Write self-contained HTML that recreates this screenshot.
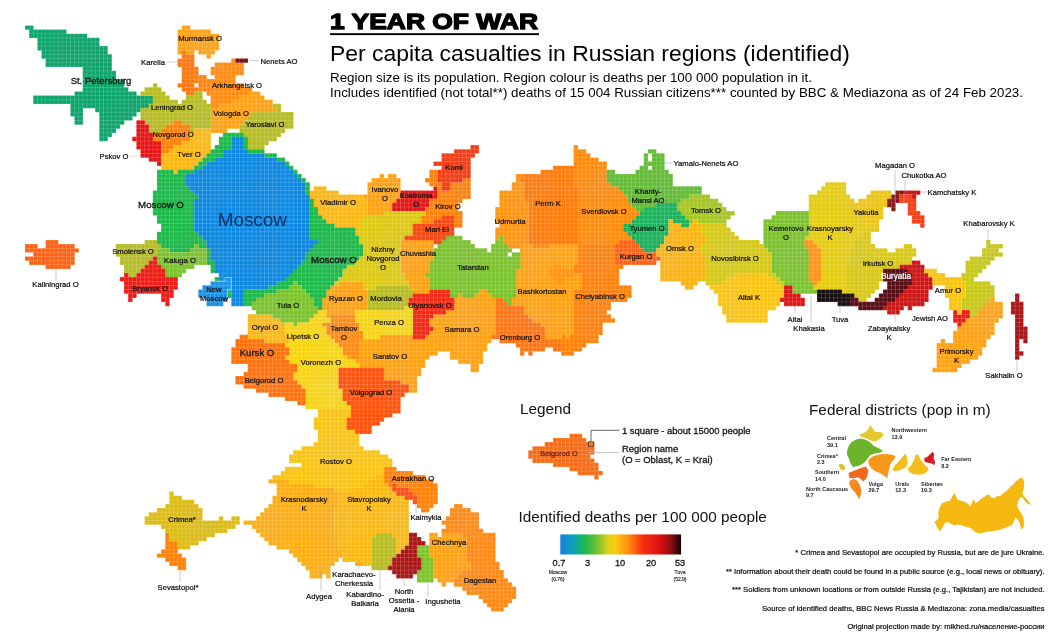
<!DOCTYPE html>
<html><head><meta charset="utf-8"><title>1 Year of War</title>
<style>
html,body{margin:0;padding:0;background:#fff;}
body{width:1052px;height:637px;overflow:hidden;position:relative;font-family:"Liberation Sans",sans-serif;}
svg{position:absolute;left:0;top:0;}
svg text{font-family:"Liberation Sans",sans-serif;}
</style></head><body>
<svg width="1052" height="637" viewBox="0 0 1052 637">
<defs>
<pattern id="grid" width="4.125" height="4.125" patternUnits="userSpaceOnUse" x="-1.6825" y="-1.2525">
<path d="M0 2.0625H4.125M2.0625 0V4.125" stroke="#fff" stroke-width="0.8" stroke-opacity="0.19" fill="none"/>
</pattern>
<linearGradient id="cb" x1="0" x2="1" y1="0" y2="0">
<stop offset="0" stop-color="#1080e0"/><stop offset="0.10" stop-color="#10a0c0"/><stop offset="0.2" stop-color="#18b850"/><stop offset="0.3" stop-color="#70c030"/><stop offset="0.4" stop-color="#e0d018"/><stop offset="0.45" stop-color="#f8cc12"/><stop offset="0.56" stop-color="#ff9010"/><stop offset="0.68" stop-color="#f83010"/><stop offset="0.82" stop-color="#e01010"/><stop offset="0.92" stop-color="#8a0c10"/><stop offset="1" stop-color="#100606"/>
</linearGradient>
<filter id="soft" x="-2%" y="-2%" width="104%" height="104%"><feGaussianBlur stdDeviation="0.45"/></filter>
</defs>
<g id="map" filter="url(#soft)">
<path fill="#10a56c" d="M24.98 25.41h8.55v4.42h-8.55zM29.11 29.54h37.42v4.42h-37.42zM29.11 33.66h58.05v4.42h-58.05zM37.36 37.79h62.17v8.55h-62.17zM37.36 46.04h70.42v4.42h-70.42zM41.48 50.16h66.3v4.42h-66.3zM41.48 54.29h70.42v4.42h-70.42zM45.61 58.41h66.3v8.55h-66.3zM82.73 66.66h29.18v4.42h-29.18zM82.73 70.78h33.3v8.55h-33.3zM82.73 79.03h41.55v8.55h-41.55zM82.73 87.28h45.67v4.42h-45.67zM74.48 91.41h62.17v4.42h-62.17zM33.23 95.53h119.92v8.55h-119.92zM70.35 103.78h78.67v4.42h-78.67zM95.1 107.91h45.67v4.42h-45.67zM70.35 107.91h12.68v8.55h-12.68zM99.23 112.03h37.42v4.42h-37.42zM99.23 116.16h33.3v4.42h-33.3zM74.48 116.16h8.55v8.55h-8.55zM99.23 120.28h25.05v4.42h-25.05zM99.23 124.41h20.93v4.42h-20.93zM99.23 128.53h16.8v4.42h-16.8zM99.23 132.66h12.68v4.42h-12.68zM99.23 136.78h8.55v4.42h-8.55z"/>
<path fill="#fea212" d="M181.73 25.41h8.55v4.42h-8.55zM177.6 29.54h33.3v4.42h-33.3zM177.6 33.66h41.55v16.8h-41.55zM177.6 50.16h4.42v4.42h-4.42zM185.85 50.16h8.55v4.42h-8.55zM198.23 50.16h16.8v4.42h-16.8zM206.48 54.29h4.42v4.42h-4.42zM247.73 91.41h12.68v4.42h-12.68zM239.48 95.53h25.05v4.42h-25.05zM231.23 99.66h41.55v4.42h-41.55zM218.85 103.78h53.92v4.42h-53.92zM210.6 107.91h66.3v4.42h-66.3zM210.6 112.03h41.55v4.42h-41.55zM210.6 116.16h37.42v4.42h-37.42zM210.6 120.28h33.3v4.42h-33.3zM210.6 124.41h29.18v4.42h-29.18zM210.6 128.53h16.8v4.42h-16.8zM379.73 173.91h4.42v4.42h-4.42zM387.98 173.91h8.55v4.42h-8.55zM371.48 178.03h29.18v4.42h-29.18zM367.36 182.16h33.3v12.68h-33.3zM363.23 194.53h37.42v4.42h-37.42zM367.36 198.66h29.18v4.42h-29.18zM367.36 202.78h25.05v8.55h-25.05zM367.36 211.03h16.8v4.42h-16.8zM519.98 244.03h12.68v4.42h-12.68zM548.86 244.03h29.18v4.42h-29.18zM400.36 239.91h33.3v20.93h-33.3zM519.98 248.16h58.05v16.8h-58.05zM519.98 264.66h33.3v4.42h-33.3zM561.23 264.66h12.68v4.42h-12.68zM400.36 260.54h29.18v12.68h-29.18zM515.86 268.79h33.3v8.55h-33.3zM404.48 272.91h20.93v4.42h-20.93zM573.61 272.91h8.55v4.42h-8.55zM404.48 277.04h25.05v4.42h-25.05zM515.86 277.04h37.42v4.42h-37.42zM565.36 277.04h16.8v8.55h-16.8zM338.48 281.16h25.05v4.42h-25.05zM515.86 281.16h41.55v4.42h-41.55zM408.61 281.16h20.93v8.55h-20.93zM330.23 285.29h33.3v4.42h-33.3zM515.86 285.29h66.3v4.42h-66.3zM412.73 289.41h16.8v4.42h-16.8zM478.73 289.41h8.55v4.42h-8.55zM326.11 289.41h41.55v8.55h-41.55zM515.86 289.41h58.05v8.55h-58.05zM458.11 293.54h4.42v4.42h-4.42zM474.61 293.54h16.8v4.42h-16.8zM990.23 297.66h4.42v4.42h-4.42zM511.73 297.66h62.17v8.55h-62.17zM986.11 301.79h16.8v4.42h-16.8zM321.98 297.66h45.67v12.68h-45.67zM453.98 297.66h41.55v12.68h-41.55zM981.98 305.91h20.93v4.42h-20.93zM524.11 305.91h49.8v8.55h-49.8zM326.11 310.04h29.18v4.42h-29.18zM445.73 310.04h49.8v4.42h-49.8zM977.86 310.04h25.05v4.42h-25.05zM326.11 314.16h4.42v4.42h-4.42zM433.36 314.16h62.17v4.42h-62.17zM528.23 314.16h45.67v4.42h-45.67zM973.73 314.16h29.18v4.42h-29.18zM532.36 318.29h41.55v4.42h-41.55zM965.48 318.29h33.3v4.42h-33.3zM429.23 318.29h66.3v8.55h-66.3zM540.61 322.41h33.3v4.42h-33.3zM961.36 322.41h33.3v4.42h-33.3zM433.36 326.54h62.17v4.42h-62.17zM957.23 326.54h37.42v4.42h-37.42zM544.73 326.54h29.18v8.55h-29.18zM429.23 330.66h66.3v4.42h-66.3zM953.11 330.66h41.55v4.42h-41.55zM379.73 334.79h33.3v4.42h-33.3zM425.11 334.79h66.3v4.42h-66.3zM544.73 334.79h16.8v4.42h-16.8zM565.36 334.79h4.42v4.42h-4.42zM953.11 334.79h37.42v4.42h-37.42zM359.11 338.91h132.3v4.42h-132.3zM940.73 338.91h4.42v4.42h-4.42zM953.11 338.91h33.3v4.42h-33.3zM936.61 343.04h49.8v4.42h-49.8zM359.11 343.04h128.18v8.55h-128.18zM936.61 347.16h45.67v8.55h-45.67zM359.11 351.29h78.67v4.42h-78.67zM449.86 351.29h33.3v8.55h-33.3zM346.73 355.41h4.42v4.42h-4.42zM359.11 355.41h70.42v4.42h-70.42zM936.61 355.41h41.55v4.42h-41.55zM354.98 359.54h70.42v4.42h-70.42zM458.11 359.54h25.05v4.42h-25.05zM936.61 359.54h33.3v4.42h-33.3zM359.11 363.66h66.3v4.42h-66.3zM936.61 363.66h25.05v4.42h-25.05zM470.48 363.66h8.55v8.55h-8.55zM932.48 367.79h25.05v4.42h-25.05zM383.86 367.79h37.42v8.55h-37.42zM383.86 376.04h33.3v4.42h-33.3zM400.36 380.16h16.8v4.42h-16.8zM408.61 384.29h8.55v8.55h-8.55zM429.23 532.78h8.55v4.42h-8.55zM441.61 532.78h20.93v4.42h-20.93zM429.23 536.91h37.42v20.93h-37.42zM433.36 557.53h33.3v4.42h-33.3zM433.36 561.66h37.42v8.55h-37.42zM433.36 569.91h29.18v4.42h-29.18zM433.36 574.03h25.05v4.42h-25.05zM437.48 578.16h16.8v4.42h-16.8zM441.61 582.28h4.42v4.42h-4.42z"/>
<path fill="#ff7810" d="M181.73 50.16h4.42v4.42h-4.42zM181.73 54.29h12.68v4.42h-12.68zM177.6 58.41h16.8v8.55h-16.8zM181.73 66.66h16.8v12.68h-16.8zM181.73 79.03h12.68v4.42h-12.68zM177.6 83.16h16.8v4.42h-16.8zM181.73 87.28h16.8v4.42h-16.8zM185.85 91.41h8.55v4.42h-8.55z"/>
<path fill="#ff8c12" d="M231.23 58.41h4.42v4.42h-4.42zM214.73 62.54h29.18v4.42h-29.18zM210.6 66.66h33.3v8.55h-33.3zM214.73 74.91h20.93v4.42h-20.93zM210.6 79.03h25.05v4.42h-25.05zM210.6 83.16h33.3v4.42h-33.3zM210.6 87.28h41.55v4.42h-41.55zM206.48 91.41h41.55v4.42h-41.55zM210.6 95.53h29.18v4.42h-29.18zM210.6 99.66h20.93v4.42h-20.93zM210.6 103.78h8.55v4.42h-8.55zM330.23 314.16h25.05v8.55h-25.05zM321.98 322.41h37.42v4.42h-37.42zM326.11 326.54h33.3v4.42h-33.3zM326.11 330.66h37.42v4.42h-37.42zM330.23 334.79h33.3v4.42h-33.3zM334.36 338.91h25.05v4.42h-25.05zM338.48 343.04h20.93v4.42h-20.93zM342.61 347.16h16.8v8.55h-16.8zM350.86 355.41h8.55v4.42h-8.55z"/>
<path fill="#7a0e0e" d="M235.35 58.41h12.68v4.42h-12.68z"/>
<path fill="#ff8412" d="M198.23 74.91h8.55v4.42h-8.55zM194.1 79.03h16.8v4.42h-16.8zM198.23 83.16h12.68v8.55h-12.68z"/>
<path fill="#b6bc24" d="M152.85 83.16h4.42v4.42h-4.42zM144.6 87.28h16.8v4.42h-16.8zM140.48 91.41h25.05v4.42h-25.05zM194.1 91.41h8.55v4.42h-8.55zM152.85 95.53h16.8v4.42h-16.8zM185.85 95.53h16.8v4.42h-16.8zM152.85 99.66h25.05v4.42h-25.05zM181.73 99.66h25.05v4.42h-25.05zM148.73 103.78h62.17v4.42h-62.17zM272.48 103.78h8.55v4.42h-8.55zM276.61 107.91h4.42v4.42h-4.42zM251.85 112.03h41.55v4.42h-41.55zM140.48 107.91h70.42v12.68h-70.42zM247.73 116.16h45.67v4.42h-45.67zM144.6 120.28h29.18v4.42h-29.18zM181.73 120.28h29.18v4.42h-29.18zM243.6 120.28h49.8v4.42h-49.8zM148.73 124.41h16.8v4.42h-16.8zM189.98 124.41h20.93v4.42h-20.93zM239.48 124.41h53.92v4.42h-53.92zM148.73 128.53h12.68v4.42h-12.68zM189.98 128.53h4.42v4.42h-4.42zM239.48 128.53h45.67v4.42h-45.67zM243.6 132.66h37.42v4.42h-37.42zM247.73 136.78h29.18v4.42h-29.18zM247.73 140.91h20.93v4.42h-20.93zM247.73 145.03h16.8v4.42h-16.8zM144.6 239.91h12.68v4.42h-12.68zM115.73 244.03h45.67v4.42h-45.67zM115.73 248.16h41.55v8.55h-41.55zM119.85 256.41h33.3v4.42h-33.3zM119.85 260.54h29.18v4.42h-29.18zM123.98 264.66h20.93v4.42h-20.93zM123.98 268.79h16.8v4.42h-16.8zM128.1 272.91h8.55v4.42h-8.55zM375.61 285.29h33.3v4.42h-33.3zM367.36 289.41h45.67v8.55h-45.67zM367.36 297.66h41.55v8.55h-41.55zM367.36 305.91h37.42v4.42h-37.42zM375.61 532.78h16.8v4.42h-16.8zM371.48 536.91h25.05v20.93h-25.05zM371.48 557.53h20.93v8.55h-20.93zM371.48 565.78h16.8v4.42h-16.8z"/>
<path fill="#e41212" d="M136.35 120.28h8.55v4.42h-8.55zM136.35 124.41h12.68v8.55h-12.68zM136.35 132.66h16.8v4.42h-16.8zM132.23 136.78h20.93v4.42h-20.93zM136.35 140.91h25.05v8.55h-25.05zM140.48 149.16h20.93v8.55h-20.93zM148.73 157.41h12.68v4.42h-12.68zM156.98 161.53h4.42v4.42h-4.42zM433.36 186.28h4.42v4.42h-4.42zM400.36 190.41h37.42v8.55h-37.42zM396.23 198.66h33.3v4.42h-33.3zM392.11 202.78h37.42v4.42h-37.42zM392.11 206.91h33.3v4.42h-33.3z"/>
<path fill="#ff8210" d="M173.48 120.28h8.55v4.42h-8.55zM165.23 124.41h25.05v4.42h-25.05zM161.1 128.53h29.18v4.42h-29.18zM152.85 132.66h37.42v8.55h-37.42zM161.1 140.91h20.93v4.42h-20.93zM161.1 145.03h12.68v4.42h-12.68zM161.1 149.16h8.55v4.42h-8.55zM429.23 169.78h8.55v8.55h-8.55zM425.11 178.03h12.68v4.42h-12.68zM462.23 178.03h8.55v4.42h-8.55zM429.23 182.16h12.68v4.42h-12.68zM449.86 182.16h20.93v8.55h-20.93zM437.48 186.28h4.42v4.42h-4.42zM437.48 190.41h33.3v8.55h-33.3zM429.23 198.66h33.3v4.42h-33.3zM429.23 202.78h29.18v4.42h-29.18zM425.11 206.91h33.3v4.42h-33.3zM425.11 211.03h37.42v4.42h-37.42zM420.98 215.16h20.93v4.42h-20.93zM420.98 219.28h12.68v4.42h-12.68zM453.98 215.16h8.55v12.68h-8.55zM577.73 244.03h37.42v20.93h-37.42zM573.61 264.66h49.8v4.42h-49.8zM573.61 268.79h45.67v4.42h-45.67zM581.86 272.91h37.42v12.68h-37.42zM581.86 285.29h49.8v4.42h-49.8zM573.61 289.41h58.05v8.55h-58.05zM573.61 297.66h53.92v4.42h-53.92zM573.61 301.79h37.42v8.55h-37.42zM573.61 310.04h33.3v4.42h-33.3zM573.61 314.16h37.42v4.42h-37.42zM573.61 318.29h41.55v4.42h-41.55zM573.61 322.41h29.18v12.68h-29.18zM561.23 334.79h4.42v4.42h-4.42zM569.48 334.79h29.18v4.42h-29.18zM561.23 338.91h37.42v4.42h-37.42zM561.23 343.04h25.05v4.42h-25.05zM561.23 347.16h20.93v4.42h-20.93zM565.36 351.29h8.55v4.42h-8.55zM383.86 466.79h12.68v4.42h-12.68zM383.86 470.91h29.18v4.42h-29.18zM383.86 475.04h41.55v4.42h-41.55zM383.86 479.16h49.8v4.42h-49.8zM387.98 483.29h4.42v4.42h-4.42zM396.23 483.29h41.55v4.42h-41.55zM408.61 487.41h29.18v4.42h-29.18zM412.73 491.54h25.05v4.42h-25.05zM416.86 495.66h20.93v8.55h-20.93zM416.86 503.91h16.8v4.42h-16.8zM420.98 508.04h8.55v4.42h-8.55zM165.23 532.78h4.42v8.55h-4.42zM165.23 541.03h12.68v8.55h-12.68zM161.1 549.28h16.8v4.42h-16.8zM156.98 553.41h25.05v4.42h-25.05zM165.23 557.53h20.93v4.42h-20.93zM169.35 561.66h16.8v4.42h-16.8zM177.6 565.78h8.55v4.42h-8.55z"/>
<path fill="#fbb812" d="M194.1 128.53h16.8v4.42h-16.8zM189.98 132.66h20.93v8.55h-20.93zM181.73 140.91h29.18v4.42h-29.18zM173.48 145.03h37.42v4.42h-37.42zM169.35 149.16h41.55v4.42h-41.55zM161.1 153.28h45.67v4.42h-45.67zM161.1 157.41h41.55v4.42h-41.55zM161.1 161.53h37.42v4.42h-37.42zM161.1 165.66h33.3v4.42h-33.3zM173.48 169.78h4.42v4.42h-4.42zM313.73 186.28h12.68v4.42h-12.68zM309.61 190.41h29.18v4.42h-29.18zM309.61 194.53h53.92v4.42h-53.92zM313.73 198.66h53.92v8.55h-53.92zM317.86 206.91h49.8v8.55h-49.8zM321.98 215.16h41.55v4.42h-41.55zM326.11 219.28h33.3v4.42h-33.3zM334.36 223.41h25.05v4.42h-25.05zM354.98 227.53h4.42v8.55h-4.42zM247.73 314.16h25.05v4.42h-25.05zM247.73 318.29h33.3v4.42h-33.3zM247.73 322.41h37.42v12.68h-37.42zM247.73 334.79h41.55v4.42h-41.55zM264.23 338.91h25.05v4.42h-25.05z"/>
<path fill="#1ab848" d="M222.98 132.66h20.93v4.42h-20.93zM218.85 136.78h12.68v8.55h-12.68zM243.6 136.78h4.42v12.68h-4.42zM214.73 145.03h16.8v4.42h-16.8zM210.6 149.16h12.68v4.42h-12.68zM247.73 149.16h16.8v4.42h-16.8zM206.48 153.28h16.8v4.42h-16.8zM264.23 153.28h12.68v4.42h-12.68zM202.35 157.41h12.68v4.42h-12.68zM276.61 157.41h8.55v4.42h-8.55zM198.23 161.53h8.55v4.42h-8.55zM284.86 161.53h4.42v4.42h-4.42zM194.1 165.66h8.55v4.42h-8.55zM288.98 165.66h4.42v4.42h-4.42zM156.98 169.78h16.8v4.42h-16.8zM177.6 169.78h16.8v4.42h-16.8zM293.11 169.78h4.42v4.42h-4.42zM297.23 173.91h4.42v4.42h-4.42zM301.36 178.03h4.42v4.42h-4.42zM156.98 173.91h29.18v12.68h-29.18zM156.98 186.28h33.3v4.42h-33.3zM305.48 182.16h4.42v12.68h-4.42zM152.85 190.41h41.55v4.42h-41.55zM152.85 194.53h45.67v4.42h-45.67zM309.61 198.66h4.42v8.55h-4.42zM152.85 198.66h41.55v16.8h-41.55zM309.61 206.91h8.55v8.55h-8.55zM309.61 215.16h12.68v4.42h-12.68zM156.98 215.16h37.42v8.55h-37.42zM309.61 219.28h16.8v4.42h-16.8zM309.61 223.41h25.05v4.42h-25.05zM161.1 223.41h33.3v8.55h-33.3zM309.61 227.53h45.67v8.55h-45.67zM156.98 231.66h41.55v4.42h-41.55zM156.98 235.78h45.67v4.42h-45.67zM309.61 235.78h49.8v4.42h-49.8zM156.98 239.91h49.8v4.42h-49.8zM317.86 239.91h41.55v4.42h-41.55zM161.1 244.03h33.3v4.42h-33.3zM198.23 244.03h8.55v4.42h-8.55zM313.73 244.03h49.8v4.42h-49.8zM169.35 248.16h20.93v4.42h-20.93zM309.61 248.16h53.92v4.42h-53.92zM305.48 252.28h58.05v4.42h-58.05zM206.48 248.16h4.42v12.68h-4.42zM305.48 256.41h53.92v4.42h-53.92zM206.48 260.54h8.55v4.42h-8.55zM301.36 260.54h53.92v4.42h-53.92zM297.23 264.66h49.8v4.42h-49.8zM210.6 264.66h4.42v8.55h-4.42zM293.11 268.79h49.8v4.42h-49.8zM288.98 272.91h53.92v4.42h-53.92zM214.73 277.04h4.42v4.42h-4.42zM284.86 277.04h53.92v4.42h-53.92zM276.61 281.16h16.8v4.42h-16.8zM297.23 281.16h37.42v4.42h-37.42zM268.36 285.29h20.93v4.42h-20.93zM301.36 285.29h29.18v4.42h-29.18zM243.6 289.41h33.3v4.42h-33.3zM305.48 289.41h20.93v4.42h-20.93zM227.1 289.41h4.42v8.55h-4.42zM243.6 293.54h20.93v4.42h-20.93zM309.61 293.54h16.8v4.42h-16.8zM243.6 297.66h12.68v4.42h-12.68zM313.73 297.66h8.55v8.55h-8.55zM243.6 301.79h8.55v4.42h-8.55zM317.86 305.91h4.42v4.42h-4.42z"/>
<path fill="#0f88e0" d="M231.23 136.78h12.68v12.68h-12.68zM222.98 149.16h25.05v4.42h-25.05zM222.98 153.28h41.55v4.42h-41.55zM214.73 157.41h62.17v4.42h-62.17zM206.48 161.53h78.67v4.42h-78.67zM202.35 165.66h86.92v4.42h-86.92zM194.1 169.78h99.3v4.42h-99.3zM185.85 173.91h111.67v4.42h-111.67zM185.85 178.03h115.8v4.42h-115.8zM185.85 182.16h119.92v4.42h-119.92zM189.98 186.28h115.8v4.42h-115.8zM194.1 190.41h111.67v4.42h-111.67zM198.23 194.53h111.67v4.42h-111.67zM194.1 198.66h115.8v33.3h-115.8zM198.23 231.66h111.67v4.42h-111.67zM202.35 235.78h107.55v4.42h-107.55zM206.48 239.91h111.67v4.42h-111.67zM206.48 244.03h107.55v4.42h-107.55zM210.6 248.16h99.3v4.42h-99.3zM210.6 252.28h95.17v8.55h-95.17zM214.73 260.54h86.92v4.42h-86.92zM214.73 264.66h82.8v4.42h-82.8zM214.73 268.79h78.67v4.42h-78.67zM218.85 272.91h70.42v4.42h-70.42zM218.85 277.04h8.55v4.42h-8.55zM231.23 277.04h53.92v4.42h-53.92zM231.23 281.16h45.67v4.42h-45.67zM231.23 285.29h37.42v4.42h-37.42zM231.23 289.41h12.68v16.8h-12.68z"/>
<path fill="#f23c12" d="M470.48 145.03h8.55v4.42h-8.55zM453.98 149.16h25.05v4.42h-25.05zM441.61 153.28h33.3v4.42h-33.3zM441.61 157.41h29.18v4.42h-29.18zM433.36 161.53h37.42v4.42h-37.42zM441.61 165.66h29.18v4.42h-29.18zM437.48 169.78h33.3v8.55h-33.3zM437.48 178.03h25.05v4.42h-25.05zM441.61 182.16h8.55v8.55h-8.55z"/>
<path fill="#ff8c10" d="M573.61 145.03h4.42v4.42h-4.42zM573.61 149.16h12.68v4.42h-12.68zM573.61 153.28h16.8v4.42h-16.8zM573.61 157.41h25.05v4.42h-25.05zM515.86 173.91h8.55v4.42h-8.55zM573.61 161.53h33.3v20.93h-33.3zM573.61 182.16h37.42v4.42h-37.42zM577.73 186.28h41.55v4.42h-41.55zM577.73 190.41h45.67v4.42h-45.67zM577.73 194.53h49.8v8.55h-49.8zM524.11 198.66h4.42v4.42h-4.42zM577.73 202.78h53.92v4.42h-53.92zM577.73 206.91h58.05v4.42h-58.05zM577.73 211.03h62.17v4.42h-62.17zM577.73 215.16h58.05v4.42h-58.05zM577.73 219.28h53.92v4.42h-53.92zM577.73 223.41h45.67v8.55h-45.67zM577.73 231.66h49.8v4.42h-49.8zM577.73 235.78h53.92v4.42h-53.92zM577.73 239.91h41.55v4.42h-41.55zM532.36 244.03h16.8v4.42h-16.8z"/>
<path fill="#64bc34" d="M647.86 149.16h8.55v4.42h-8.55zM643.73 153.28h4.42v8.55h-4.42zM651.98 153.28h12.68v8.55h-12.68zM643.73 161.53h20.93v4.42h-20.93zM639.61 165.66h8.55v4.42h-8.55zM651.98 165.66h12.68v4.42h-12.68zM606.61 169.78h8.55v4.42h-8.55zM635.48 169.78h33.3v4.42h-33.3zM606.61 173.91h66.3v8.55h-66.3zM610.73 182.16h62.17v4.42h-62.17zM618.98 186.28h82.8v4.42h-82.8zM623.11 190.41h78.67v4.42h-78.67zM627.23 194.53h62.17v4.42h-62.17zM627.23 198.66h53.92v4.42h-53.92zM631.36 202.78h25.05v4.42h-25.05zM635.48 206.91h8.55v4.42h-8.55z"/>
<path fill="#ff7c10" d="M552.98 165.66h20.93v4.42h-20.93zM540.61 169.78h33.3v4.42h-33.3zM524.11 173.91h49.8v4.42h-49.8zM519.98 178.03h53.92v4.42h-53.92zM524.11 182.16h49.8v4.42h-49.8zM524.11 186.28h53.92v12.68h-53.92zM528.23 198.66h49.8v45.67h-49.8z"/>
<path fill="#ff9612" d="M515.86 178.03h4.42v4.42h-4.42zM511.73 182.16h12.68v8.55h-12.68zM499.36 190.41h25.05v12.68h-25.05zM499.36 202.78h29.18v4.42h-29.18zM495.23 206.91h33.3v16.8h-33.3zM499.36 223.41h29.18v4.42h-29.18zM495.23 227.53h33.3v8.55h-33.3zM495.23 235.78h4.42v4.42h-4.42zM503.48 235.78h25.05v8.55h-25.05zM507.61 244.03h12.68v4.42h-12.68z"/>
<path fill="#e4cc16" d="M825.23 182.16h20.93v4.42h-20.93zM821.11 186.28h25.05v4.42h-25.05zM816.98 190.41h29.18v4.42h-29.18zM808.73 194.53h41.55v16.8h-41.55zM808.73 211.03h45.67v4.42h-45.67zM808.73 215.16h49.8v4.42h-49.8zM808.73 219.28h53.92v4.42h-53.92zM808.73 223.41h62.17v8.55h-62.17zM808.73 231.66h53.92v4.42h-53.92zM804.61 235.78h53.92v4.42h-53.92zM812.86 239.91h41.55v4.42h-41.55zM816.98 244.03h37.42v4.42h-37.42zM821.11 248.16h29.18v12.68h-29.18zM821.11 260.54h25.05v20.93h-25.05zM816.98 281.16h29.18v4.42h-29.18zM812.86 285.29h33.3v4.42h-33.3zM841.73 289.41h4.42v4.42h-4.42z"/>
<path fill="#ecc416" d="M870.61 190.41h20.93v4.42h-20.93zM866.48 194.53h25.05v4.42h-25.05zM849.98 198.66h4.42v4.42h-4.42zM858.23 198.66h29.18v4.42h-29.18zM849.98 202.78h37.42v4.42h-37.42zM849.98 206.91h33.3v4.42h-33.3zM854.11 211.03h29.18v4.42h-29.18zM858.23 215.16h25.05v4.42h-25.05zM862.36 219.28h16.8v4.42h-16.8zM870.61 223.41h8.55v8.55h-8.55z"/>
<path fill="#8c1212" d="M895.36 190.41h8.55v4.42h-8.55zM891.23 194.53h8.55v4.42h-8.55zM887.11 198.66h12.68v4.42h-12.68zM887.11 202.78h8.55v4.42h-8.55zM891.23 206.91h4.42v4.42h-4.42z"/>
<path fill="#c81416" d="M903.61 190.41h16.8v4.42h-16.8zM911.86 194.53h4.42v4.42h-4.42z"/>
<path fill="#a6c428" d="M689.11 194.53h20.93v4.42h-20.93zM680.86 198.66h37.42v4.42h-37.42zM676.73 202.78h45.67v4.42h-45.67zM676.73 206.91h49.8v4.42h-49.8zM680.86 211.03h53.92v4.42h-53.92zM684.98 215.16h45.67v4.42h-45.67zM689.11 219.28h4.42v4.42h-4.42zM697.36 219.28h29.18v4.42h-29.18z"/>
<path fill="#f63c14" d="M899.48 194.53h12.68v4.42h-12.68zM899.48 198.66h16.8v4.42h-16.8zM907.73 202.78h8.55v8.55h-8.55zM907.73 211.03h12.68v4.42h-12.68zM911.86 215.16h12.68v8.55h-12.68zM920.11 223.41h4.42v4.42h-4.42z"/>
<path fill="#1cb25c" d="M656.11 202.78h20.93v4.42h-20.93zM643.73 206.91h33.3v4.42h-33.3zM639.61 211.03h41.55v4.42h-41.55zM635.48 215.16h49.8v4.42h-49.8zM631.36 219.28h37.42v4.42h-37.42zM672.61 219.28h16.8v4.42h-16.8zM680.86 223.41h8.55v4.42h-8.55zM623.11 223.41h45.67v8.55h-45.67zM627.23 231.66h41.55v4.42h-41.55zM631.36 235.78h33.3v4.42h-33.3zM635.48 239.91h29.18v4.42h-29.18zM639.61 244.03h20.93v4.42h-20.93zM643.73 248.16h12.68v4.42h-12.68z"/>
<path fill="#dcc818" d="M383.86 211.03h41.55v4.42h-41.55zM363.23 215.16h58.05v4.42h-58.05zM359.11 219.28h62.17v4.42h-62.17zM359.11 223.41h53.92v12.68h-53.92zM359.11 235.78h45.67v4.42h-45.67zM359.11 239.91h41.55v4.42h-41.55zM363.23 244.03h37.42v12.68h-37.42zM359.11 256.41h41.55v4.42h-41.55zM354.98 260.54h45.67v4.42h-45.67zM346.73 264.66h53.92v4.42h-53.92zM342.61 268.79h58.05v4.42h-58.05zM342.61 272.91h62.17v4.42h-62.17zM338.48 277.04h66.3v4.42h-66.3zM334.36 281.16h4.42v4.42h-4.42zM363.23 281.16h45.67v4.42h-45.67zM363.23 285.29h12.68v4.42h-12.68z"/>
<path fill="#7cc22e" d="M775.73 211.03h33.3v4.42h-33.3zM771.61 215.16h37.42v4.42h-37.42zM763.36 219.28h45.67v16.8h-45.67zM445.73 235.78h16.8v4.42h-16.8zM499.36 235.78h4.42v4.42h-4.42zM441.61 239.91h29.18v4.42h-29.18zM495.23 239.91h8.55v4.42h-8.55zM763.36 235.78h41.55v12.68h-41.55zM194.1 244.03h4.42v4.42h-4.42zM437.48 244.03h37.42v4.42h-37.42zM491.11 244.03h16.8v4.42h-16.8zM156.98 248.16h12.68v4.42h-12.68zM189.98 248.16h16.8v4.42h-16.8zM433.36 248.16h53.92v4.42h-53.92zM491.11 248.16h20.93v4.42h-20.93zM767.48 248.16h41.55v4.42h-41.55zM433.36 252.28h74.55v4.42h-74.55zM511.73 252.28h8.55v4.42h-8.55zM433.36 256.41h86.92v4.42h-86.92zM156.98 252.28h49.8v12.68h-49.8zM429.23 260.54h91.05v8.55h-91.05zM161.1 264.66h33.3v4.42h-33.3zM771.61 252.28h37.42v20.93h-37.42zM165.23 268.79h20.93v4.42h-20.93zM429.23 268.79h86.92v4.42h-86.92zM165.23 272.91h16.8v4.42h-16.8zM425.11 272.91h91.05v4.42h-91.05zM775.73 272.91h33.3v4.42h-33.3zM779.86 277.04h29.18v4.42h-29.18zM293.11 281.16h4.42v4.42h-4.42zM783.98 281.16h29.18v4.42h-29.18zM429.23 277.04h86.92v12.68h-86.92zM288.98 285.29h12.68v4.42h-12.68zM792.23 285.29h20.93v4.42h-20.93zM276.61 289.41h29.18v4.42h-29.18zM449.86 289.41h29.18v4.42h-29.18zM486.98 289.41h29.18v4.42h-29.18zM792.23 289.41h25.05v4.42h-25.05zM264.23 293.54h45.67v4.42h-45.67zM449.86 293.54h8.55v4.42h-8.55zM462.23 293.54h12.68v4.42h-12.68zM491.11 293.54h25.05v4.42h-25.05zM255.98 297.66h58.05v4.42h-58.05zM503.48 297.66h8.55v4.42h-8.55zM251.85 301.79h62.17v4.42h-62.17zM507.61 301.79h4.42v4.42h-4.42zM251.85 305.91h66.3v4.42h-66.3zM255.98 310.04h62.17v4.42h-62.17zM272.48 314.16h41.55v4.42h-41.55zM280.73 318.29h29.18v4.42h-29.18zM293.11 322.41h4.42v4.42h-4.42zM416.86 545.16h12.68v12.68h-12.68zM420.98 557.53h12.68v12.68h-12.68zM416.86 569.91h16.8v12.68h-16.8z"/>
<path fill="#f44a12" d="M441.61 215.16h12.68v4.42h-12.68zM433.36 219.28h20.93v4.42h-20.93zM412.73 223.41h41.55v12.68h-41.55zM404.48 235.78h41.55v4.42h-41.55zM433.36 239.91h8.55v4.42h-8.55z"/>
<path fill="#fbb414" d="M668.48 219.28h4.42v4.42h-4.42zM693.23 219.28h4.42v4.42h-4.42zM668.48 223.41h12.68v4.42h-12.68zM689.11 223.41h12.68v4.42h-12.68zM668.48 227.53h33.3v8.55h-33.3zM664.36 235.78h41.55v8.55h-41.55zM660.23 244.03h41.55v4.42h-41.55zM656.11 248.16h45.67v4.42h-45.67zM656.11 252.28h49.8v4.42h-49.8zM660.23 256.41h45.67v20.93h-45.67zM660.23 277.04h41.55v4.42h-41.55zM680.86 281.16h16.8v4.42h-16.8zM684.98 285.29h8.55v4.42h-8.55z"/>
<path fill="#d6c818" d="M701.48 223.41h25.05v4.42h-25.05zM701.48 227.53h29.18v4.42h-29.18zM701.48 231.66h33.3v4.42h-33.3zM705.61 235.78h33.3v4.42h-33.3zM705.61 239.91h53.92v4.42h-53.92zM701.48 244.03h62.17v4.42h-62.17zM701.48 248.16h66.3v4.42h-66.3zM705.61 252.28h66.3v20.93h-66.3zM705.61 272.91h29.18v4.42h-29.18zM767.48 272.91h8.55v4.42h-8.55zM701.48 277.04h25.05v4.42h-25.05zM771.61 277.04h8.55v4.42h-8.55zM705.61 281.16h16.8v4.42h-16.8zM775.73 281.16h8.55v4.42h-8.55zM779.86 285.29h4.42v4.42h-4.42z"/>
<path fill="#d9c818" d="M862.36 231.66h8.55v4.42h-8.55zM858.23 235.78h12.68v4.42h-12.68zM854.11 239.91h16.8v4.42h-16.8zM854.11 244.03h20.93v4.42h-20.93zM903.61 244.03h8.55v4.42h-8.55zM849.98 248.16h37.42v4.42h-37.42zM895.36 248.16h20.93v4.42h-20.93zM849.98 252.28h66.3v4.42h-66.3zM849.98 256.41h62.17v4.42h-62.17zM845.86 260.54h66.3v4.42h-66.3zM845.86 264.66h53.92v4.42h-53.92zM845.86 268.79h37.42v12.68h-37.42zM845.86 281.16h33.3v8.55h-33.3zM845.86 289.41h29.18v4.42h-29.18zM854.11 293.54h16.8v4.42h-16.8zM858.23 297.66h8.55v4.42h-8.55z"/>
<path fill="#fd6412" d="M45.61 239.91h12.68v4.42h-12.68zM618.98 239.91h16.8v4.42h-16.8zM24.98 244.03h12.68v4.42h-12.68zM45.61 244.03h29.18v4.42h-29.18zM614.86 244.03h25.05v4.42h-25.05zM24.98 248.16h53.92v4.42h-53.92zM614.86 248.16h29.18v4.42h-29.18zM33.23 252.28h41.55v4.42h-41.55zM614.86 252.28h41.55v4.42h-41.55zM24.98 256.41h49.8v4.42h-49.8zM614.86 256.41h45.67v4.42h-45.67zM29.11 260.54h45.67v4.42h-45.67zM614.86 260.54h41.55v4.42h-41.55zM45.61 264.66h25.05v4.42h-25.05z"/>
<path fill="#ff9412" d="M804.61 239.91h8.55v4.42h-8.55zM804.61 244.03h12.68v4.42h-12.68zM552.98 264.66h8.55v4.42h-8.55zM548.86 268.79h25.05v8.55h-25.05zM808.73 248.16h12.68v33.3h-12.68zM552.98 277.04h12.68v4.42h-12.68zM557.11 281.16h8.55v4.42h-8.55zM812.86 281.16h4.42v4.42h-4.42z"/>
<path fill="#c8c81e" d="M986.11 239.91h4.42v4.42h-4.42zM986.11 244.03h16.8v4.42h-16.8zM981.98 248.16h16.8v4.42h-16.8zM981.98 252.28h20.93v4.42h-20.93zM969.61 256.41h25.05v4.42h-25.05zM965.48 260.54h25.05v4.42h-25.05zM965.48 264.66h20.93v4.42h-20.93zM965.48 268.79h16.8v4.42h-16.8zM961.36 272.91h16.8v4.42h-16.8zM961.36 277.04h12.68v4.42h-12.68zM965.48 281.16h25.05v4.42h-25.05zM965.48 285.29h29.18v12.68h-29.18zM961.36 297.66h29.18v4.42h-29.18zM961.36 301.79h25.05v4.42h-25.05zM961.36 305.91h20.93v4.42h-20.93zM969.61 310.04h8.55v4.42h-8.55zM969.61 314.16h4.42v4.42h-4.42z"/>
<path fill="#ec1c14" d="M152.85 256.41h4.42v4.42h-4.42zM148.73 260.54h8.55v4.42h-8.55zM144.6 264.66h16.8v4.42h-16.8zM140.48 268.79h25.05v4.42h-25.05zM123.98 272.91h4.42v4.42h-4.42zM136.35 272.91h29.18v4.42h-29.18zM119.85 277.04h58.05v4.42h-58.05zM123.98 281.16h53.92v8.55h-53.92zM123.98 289.41h49.8v4.42h-49.8zM128.1 293.54h8.55v4.42h-8.55zM161.1 293.54h12.68v4.42h-12.68zM128.1 297.66h4.42v4.42h-4.42zM161.1 297.66h8.55v4.42h-8.55zM165.23 301.79h4.42v4.42h-4.42zM953.11 310.04h4.42v4.42h-4.42zM961.36 310.04h8.55v4.42h-8.55zM953.11 314.16h16.8v4.42h-16.8zM953.11 318.29h12.68v4.42h-12.68zM957.23 322.41h4.42v4.42h-4.42z"/>
<path fill="#cc1212" d="M911.86 260.54h8.55v4.42h-8.55zM899.48 264.66h25.05v4.42h-25.05zM907.73 268.79h16.8v4.42h-16.8zM911.86 272.91h16.8v4.42h-16.8zM911.86 277.04h20.93v8.55h-20.93zM907.73 285.29h25.05v4.42h-25.05zM903.61 289.41h25.05v4.42h-25.05zM899.48 293.54h29.18v4.42h-29.18zM895.36 297.66h33.3v4.42h-33.3zM887.11 301.79h37.42v4.42h-37.42zM882.98 305.91h20.93v4.42h-20.93zM907.73 305.91h4.42v4.42h-4.42zM887.11 310.04h12.68v4.42h-12.68z"/>
<path fill="#560a12" d="M882.98 268.79h25.05v4.42h-25.05zM882.98 272.91h29.18v8.55h-29.18zM887.11 281.16h25.05v4.42h-25.05zM887.11 285.29h20.93v4.42h-20.93zM882.98 289.41h20.93v4.42h-20.93zM878.86 293.54h20.93v4.42h-20.93zM849.98 297.66h8.55v4.42h-8.55zM874.73 297.66h20.93v4.42h-20.93zM849.98 301.79h37.42v4.42h-37.42zM858.23 305.91h25.05v4.42h-25.05z"/>
<path fill="#f9c412" d="M924.23 268.79h12.68v4.42h-12.68zM734.48 272.91h33.3v4.42h-33.3zM928.36 272.91h16.8v4.42h-16.8zM726.23 277.04h45.67v4.42h-45.67zM932.48 277.04h29.18v4.42h-29.18zM722.11 281.16h53.92v4.42h-53.92zM932.48 281.16h33.3v4.42h-33.3zM709.73 285.29h70.42v4.42h-70.42zM713.86 289.41h70.42v4.42h-70.42zM944.86 285.29h20.93v12.68h-20.93zM717.98 293.54h66.3v4.42h-66.3zM717.98 297.66h62.17v8.55h-62.17zM948.98 297.66h12.68v12.68h-12.68zM722.11 305.91h53.92v4.42h-53.92zM722.11 310.04h45.67v4.42h-45.67zM957.23 310.04h4.42v4.42h-4.42zM726.23 314.16h41.55v8.55h-41.55zM317.86 409.04h33.3v8.55h-33.3zM313.73 417.29h33.3v12.68h-33.3zM317.86 429.66h37.42v4.42h-37.42zM317.86 433.79h41.55v8.55h-41.55zM313.73 442.04h45.67v4.42h-45.67zM301.36 446.16h62.17v4.42h-62.17zM293.11 450.29h86.92v4.42h-86.92zM288.98 454.41h99.3v4.42h-99.3zM288.98 458.54h103.42v4.42h-103.42zM301.36 462.66h91.05v4.42h-91.05zM284.86 466.79h99.3v4.42h-99.3zM280.73 470.91h103.42v4.42h-103.42zM272.48 475.04h103.42v4.42h-103.42zM288.98 479.16h78.67v4.42h-78.67zM313.73 483.29h49.8v4.42h-49.8zM334.36 487.41h16.8v4.42h-16.8z"/>
<path fill="#1f8fe2" d="M227.1 277.04h4.42v4.42h-4.42zM210.6 281.16h20.93v4.42h-20.93zM202.35 285.29h29.18v4.42h-29.18zM198.23 289.41h29.18v8.55h-29.18zM206.48 297.66h20.93v4.42h-20.93zM206.48 301.79h16.8v4.42h-16.8z"/>
<path fill="#dc1818" d="M783.98 285.29h8.55v8.55h-8.55zM783.98 293.54h16.8v4.42h-16.8zM779.86 297.66h25.05v4.42h-25.05zM783.98 301.79h20.93v4.42h-20.93z"/>
<path fill="#f02c12" d="M429.23 289.41h20.93v4.42h-20.93zM412.73 293.54h37.42v4.42h-37.42zM408.61 297.66h45.67v8.55h-45.67zM412.73 305.91h41.55v4.42h-41.55zM412.73 310.04h33.3v4.42h-33.3zM412.73 314.16h20.93v4.42h-20.93zM412.73 318.29h16.8v8.55h-16.8zM412.73 326.54h20.93v4.42h-20.93zM412.73 330.66h16.8v4.42h-16.8zM412.73 334.79h12.68v4.42h-12.68z"/>
<path fill="#180808" d="M816.98 289.41h25.05v4.42h-25.05zM816.98 293.54h37.42v4.42h-37.42zM816.98 297.66h33.3v4.42h-33.3zM837.61 301.79h12.68v4.42h-12.68z"/>
<path fill="#aa1218" d="M1014.98 293.54h4.42v8.55h-4.42zM1010.86 301.79h12.68v12.68h-12.68zM1014.98 314.16h8.55v12.68h-8.55zM1014.98 326.54h12.68v12.68h-12.68zM1023.23 338.91h4.42v4.42h-4.42zM1014.98 338.91h4.42v12.68h-4.42zM1014.98 351.29h8.55v4.42h-8.55zM1014.98 355.41h4.42v4.42h-4.42zM408.61 532.78h8.55v4.42h-8.55zM408.61 536.91h12.68v4.42h-12.68zM408.61 541.03h16.8v4.42h-16.8zM404.48 545.16h12.68v4.42h-12.68zM400.36 549.28h16.8v4.42h-16.8zM396.23 553.41h20.93v4.42h-20.93zM392.11 557.53h29.18v8.55h-29.18zM387.98 565.78h33.3v4.42h-33.3zM392.11 569.91h25.05v4.42h-25.05zM396.23 574.03h16.8v4.42h-16.8z"/>
<path fill="#ff7612" d="M495.23 297.66h8.55v4.42h-8.55zM495.23 301.79h12.68v4.42h-12.68zM495.23 305.91h29.18v8.55h-29.18zM495.23 314.16h33.3v4.42h-33.3zM495.23 318.29h37.42v4.42h-37.42zM495.23 322.41h45.67v4.42h-45.67zM495.23 326.54h49.8v8.55h-49.8zM491.11 334.79h53.92v4.42h-53.92zM499.36 338.91h62.17v4.42h-62.17zM515.86 343.04h45.67v4.42h-45.67zM519.98 347.16h25.05v4.42h-25.05zM552.98 347.16h8.55v4.42h-8.55zM519.98 351.29h4.42v4.42h-4.42zM528.23 351.29h4.42v4.42h-4.42zM561.23 351.29h4.42v4.42h-4.42z"/>
<path fill="#f6d412" d="M404.48 305.91h8.55v4.42h-8.55zM317.86 310.04h8.55v4.42h-8.55zM313.73 314.16h12.68v4.42h-12.68zM354.98 310.04h58.05v12.68h-58.05zM309.61 318.29h20.93v4.42h-20.93zM284.86 322.41h8.55v4.42h-8.55zM297.23 322.41h25.05v4.42h-25.05zM359.11 322.41h53.92v8.55h-53.92zM284.86 326.54h41.55v8.55h-41.55zM363.23 330.66h49.8v4.42h-49.8zM288.98 334.79h41.55v4.42h-41.55zM363.23 334.79h16.8v4.42h-16.8zM288.98 338.91h45.67v4.42h-45.67zM284.86 343.04h53.92v4.42h-53.92zM288.98 347.16h53.92v8.55h-53.92zM284.86 355.41h62.17v4.42h-62.17zM288.98 359.54h66.3v4.42h-66.3zM297.23 363.66h62.17v4.42h-62.17zM297.23 367.79h41.55v4.42h-41.55zM293.11 371.91h45.67v8.55h-45.67zM297.23 380.16h41.55v4.42h-41.55zM301.36 384.29h37.42v4.42h-37.42zM305.48 388.41h37.42v12.68h-37.42zM305.48 400.79h41.55v4.42h-41.55zM305.48 404.91h45.67v4.42h-45.67z"/>
<path fill="#ff7210" d="M239.48 334.79h8.55v4.42h-8.55zM235.35 338.91h29.18v4.42h-29.18zM235.35 343.04h49.8v4.42h-49.8zM231.23 347.16h58.05v8.55h-58.05zM231.23 355.41h53.92v4.42h-53.92zM231.23 359.54h58.05v4.42h-58.05zM247.73 363.66h49.8v8.55h-49.8zM243.6 371.91h49.8v4.42h-49.8zM235.35 376.04h58.05v4.42h-58.05zM235.35 380.16h62.17v4.42h-62.17zM243.6 384.29h58.05v4.42h-58.05zM255.98 388.41h49.8v4.42h-49.8zM268.36 392.54h37.42v4.42h-37.42zM284.86 396.66h20.93v4.42h-20.93zM297.23 400.79h8.55v4.42h-8.55z"/>
<path fill="#ff5210" d="M338.48 367.79h45.67v12.68h-45.67zM338.48 380.16h62.17v4.42h-62.17zM338.48 384.29h70.42v4.42h-70.42zM342.61 388.41h66.3v4.42h-66.3zM342.61 392.54h62.17v4.42h-62.17zM342.61 396.66h58.05v4.42h-58.05zM346.73 400.79h53.92v4.42h-53.92zM350.86 404.91h49.8v8.55h-49.8zM350.86 413.16h41.55v4.42h-41.55zM346.73 417.29h37.42v4.42h-37.42zM346.73 421.41h33.3v4.42h-33.3zM346.73 425.54h25.05v4.42h-25.05zM354.98 429.66h16.8v4.42h-16.8z"/>
<path fill="#f86c14" d="M569.48 433.79h12.68v4.42h-12.68zM552.98 437.91h33.3v4.42h-33.3zM544.73 442.04h49.8v4.42h-49.8zM532.36 446.16h62.17v4.42h-62.17zM528.23 450.29h66.3v4.42h-66.3zM528.23 454.41h62.17v4.42h-62.17zM532.36 458.54h62.17v4.42h-62.17zM552.98 462.66h45.67v4.42h-45.67zM569.48 466.79h29.18v4.42h-29.18zM577.73 470.91h25.05v4.42h-25.05zM594.23 475.04h4.42v4.42h-4.42z"/>
<path fill="#fbb912" d="M375.61 475.04h8.55v4.42h-8.55zM367.36 479.16h16.8v4.42h-16.8zM363.23 483.29h25.05v4.42h-25.05zM350.86 487.41h41.55v4.42h-41.55zM338.48 491.54h58.05v4.42h-58.05zM338.48 495.66h66.3v4.42h-66.3zM338.48 499.79h70.42v8.55h-70.42zM334.36 508.04h74.55v25.05h-74.55zM338.48 532.78h37.42v4.42h-37.42zM392.11 532.78h16.8v4.42h-16.8zM396.23 536.91h12.68v8.55h-12.68zM338.48 536.91h33.3v12.68h-33.3zM396.23 545.16h8.55v4.42h-8.55zM396.23 549.28h4.42v4.42h-4.42zM342.61 549.28h29.18v12.68h-29.18zM363.23 561.66h8.55v4.42h-8.55z"/>
<path fill="#fdae12" d="M268.36 479.16h20.93v4.42h-20.93zM276.61 483.29h37.42v4.42h-37.42zM276.61 487.41h58.05v4.42h-58.05zM276.61 491.54h62.17v4.42h-62.17zM272.48 495.66h66.3v8.55h-66.3zM268.36 503.91h70.42v4.42h-70.42zM264.23 508.04h70.42v4.42h-70.42zM260.11 512.16h74.55v4.42h-74.55zM255.98 516.28h78.67v4.42h-78.67zM243.6 520.41h91.05v4.42h-91.05zM251.85 524.53h82.8v4.42h-82.8zM255.98 528.66h78.67v4.42h-78.67zM260.11 532.78h78.67v4.42h-78.67zM264.23 536.91h74.55v4.42h-74.55zM268.36 541.03h70.42v4.42h-70.42zM276.61 545.16h62.17v4.42h-62.17zM288.98 549.28h53.92v4.42h-53.92zM293.11 553.41h49.8v4.42h-49.8zM297.23 557.53h41.55v4.42h-41.55zM301.36 561.66h33.3v4.42h-33.3zM354.98 561.66h8.55v4.42h-8.55zM305.48 565.78h25.05v4.42h-25.05zM309.61 569.91h20.93v4.42h-20.93zM309.61 574.03h12.68v4.42h-12.68zM326.11 574.03h4.42v4.42h-4.42z"/>
<path fill="#fa5012" d="M392.11 483.29h4.42v4.42h-4.42zM392.11 487.41h16.8v4.42h-16.8zM396.23 491.54h16.8v4.42h-16.8zM404.48 495.66h12.68v4.42h-12.68zM412.73 499.79h4.42v4.42h-4.42z"/>
<path fill="#dcbc14" d="M169.35 491.54h4.42v4.42h-4.42zM169.35 495.66h12.68v4.42h-12.68zM169.35 499.79h25.05v4.42h-25.05zM165.23 503.91h33.3v4.42h-33.3zM156.98 508.04h45.67v4.42h-45.67zM148.73 512.16h53.92v4.42h-53.92zM144.6 516.28h58.05v4.42h-58.05zM218.85 516.28h4.42v4.42h-4.42zM231.23 516.28h8.55v4.42h-8.55zM144.6 520.41h95.17v4.42h-95.17zM161.1 524.53h74.55v4.42h-74.55zM165.23 528.66h62.17v4.42h-62.17zM169.35 532.78h45.67v4.42h-45.67zM169.35 536.91h37.42v4.42h-37.42zM177.6 541.03h20.93v4.42h-20.93zM177.6 545.16h12.68v4.42h-12.68z"/>
<path fill="#ff8a12" d="M453.98 503.91h8.55v4.42h-8.55zM449.86 508.04h20.93v4.42h-20.93zM449.86 512.16h29.18v4.42h-29.18zM445.73 516.28h33.3v4.42h-33.3zM441.61 520.41h37.42v4.42h-37.42zM445.73 524.53h33.3v4.42h-33.3zM441.61 528.66h41.55v4.42h-41.55zM462.23 532.78h33.3v4.42h-33.3zM466.36 536.91h29.18v25.05h-29.18zM470.48 561.66h29.18v8.55h-29.18zM462.23 569.91h41.55v4.42h-41.55zM458.11 574.03h45.67v4.42h-45.67zM453.98 578.16h53.92v4.42h-53.92zM453.98 582.28h58.05v4.42h-58.05zM462.23 586.41h53.92v4.42h-53.92zM466.36 590.53h49.8v4.42h-49.8zM478.73 594.66h37.42v4.42h-37.42zM482.86 598.78h29.18v4.42h-29.18zM486.98 602.91h20.93v4.42h-20.93zM491.11 607.03h12.68v4.42h-12.68z"/>
</g>
<rect x="0" y="20" width="1052" height="600" fill="url(#grid)"/>
<polygon fill="#e2c82c" points="859,434.5 864.2,432.8 867.6,430.3 870.2,425.1 872.7,428.6 875.3,432 880.4,432 883.8,434.5 882.1,437.1 878.7,439.7 875.3,441.4 870.2,440.5 865.9,438 861.6,437.1"/>
<polygon fill="#6cb42c" points="847.1,450.8 848.8,445.7 851.3,442.2 855.6,439.7 860.7,438.5 865.9,439.7 870.2,442.2 873.6,445.7 878.7,448.2 883,450.8 880.4,452.5 875.3,453.4 870.2,455.1 867.6,458.5 865,461.9 861.6,464.5 857.3,466.2 853,467.1 850.5,463.6 848.8,458.5 847.1,455.1"/>
<polygon fill="#e2c02c" points="838.5,464.8 841.9,463.6 844.5,466.2 845.3,469.6 842.8,470.5 840.2,468.8"/>
<polygon fill="#f0681c" points="848.4,473 854.8,470.5 860.7,467.9 865.9,466.5 868.4,470.5 867.6,474.8 865.9,479 863.3,481.6 860.7,479 858.2,477.3 853.9,478.2 849.6,478.2"/>
<polygon fill="#f6891c" points="849.6,480.7 853.9,479 857.3,480.7 859.9,485 861.3,490.2 860.7,495.3 859,499.6 857.3,496.1 854.8,491.9 851.3,488.4 849.3,484.2"/>
<polygon fill="#f6981c" points="868.4,459.4 873.6,455.9 880.4,454.2 887.3,453.9 893.3,455.1 895.8,456.8 893.3,460.2 890.7,463.6 889,468.8 888.1,473.9 887.3,478.2 883.8,475.6 879.6,473 875.3,471.3 871,467.9 868.4,463.6"/>
<polygon fill="#f5bd1c" points="892.4,469.6 895,465.3 899.2,461.1 902.7,456.8 905.2,453.4 906.9,456.8 907.8,461.9 906.9,466.2 903.5,468.8 898.4,470.5 894.1,471.3"/>
<polygon fill="#f5bd1c" points="907.8,468.8 911.2,465.3 913.8,460.2 915.5,455.1 918.1,454.2 919.8,458.5 922.3,461.9 924.9,465.3 928.3,467.9 927.5,471.3 924.1,473.9 918.9,474.8 912.9,473.9 909.5,472.2"/>
<polygon fill="#d81c1c" points="924.1,458.5 927.5,456.8 930.9,453.4 932.6,451.7 934.3,454.2 933.5,458.5 935.2,461.9 934.3,465.3 931.8,463.6 928.3,462.8 924.9,461.9"/>
<polygon fill="#f5b810" points="934.4,521.4 936.9,520.2 938.8,517.7 938.2,513.9 938.8,510.2 940.1,506.4 942,503.2 945.1,502 949.5,500.7 951.4,498.2 953.2,494.5 955.1,493.8 956.4,497 957.6,500.1 961.4,500.7 965.2,502 968.3,503.9 970.2,506.4 971.4,503.9 972.7,500.7 974.6,500.1 975.2,503.2 977.7,502 980.2,499.5 984,497 987.8,494.5 989.6,495.1 990.9,497.6 994,498.2 997.2,496.3 1000.3,495.7 1003.4,493.2 1006.6,490.7 1009.7,487.6 1012.8,484.4 1016,481.3 1019.1,478.8 1021.6,477.5 1023.5,479.4 1024.1,482.5 1024.1,486.3 1023.5,490.1 1022.3,493.2 1024.1,496.3 1026.6,498.9 1029.2,502 1030.4,505.1 1027.9,503.9 1025.4,501.4 1022.9,498.2 1020.4,497 1019.1,499.5 1017.9,502.6 1017.2,506.4 1019.1,510.2 1021.6,513.9 1023.5,517.7 1024.1,522.7 1023.5,527.7 1021.6,529.6 1020.4,526.5 1019.7,522.7 1017.9,519.6 1015.4,517.7 1014.1,520.2 1012.8,524 1010.3,525.8 1006.6,527.1 1002.8,529 997.8,530.2 992.8,530.9 987.8,531.5 982.7,532.7 979,533.4 975.2,532.1 972.7,529.6 969.6,527.7 965.2,526.5 961.4,525.2 957.6,524.6 953.9,525.2 951.4,524 947.6,522.1 945.1,522.7 943.8,525.2 942,527.7 940.1,531.5 938.2,529 936.3,525.8 935.1,523.3"/>
<rect x="560.3" y="534.4" width="120.8" height="20.1" fill="url(#cb)"/>
<rect x="588.6" y="441.8" width="4.8" height="4.4" fill="#e8804a" stroke="#5a2a1a" stroke-width="0.8"/>
<path d="M591 441.5V430.3H619.5" fill="none" stroke="#444" stroke-width="0.8"/>
<path d="M588.5 452.4H619.5" fill="none" stroke="#b8b8b8" stroke-width="0.8"/>
<path d="M167 62L180 62" fill="none" stroke="#9a9a9a" stroke-width="0.5"/>
<path d="M250 60.5L258 60.5" fill="none" stroke="#9a9a9a" stroke-width="0.5"/>
<path d="M131 156L138 156" fill="none" stroke="#e8b0b0" stroke-width="0.5"/>
<path d="M663 163L672 163" fill="none" stroke="#9a9a9a" stroke-width="0.5"/>
<path d="M895 170L895 203" fill="none" stroke="#9a9a9a" stroke-width="0.5"/>
<path d="M905 180L905 203" fill="none" stroke="#9a9a9a" stroke-width="0.5"/>
<path d="M921 192L928 192" fill="none" stroke="#9a9a9a" stroke-width="0.5"/>
<path d="M988 229L988 241" fill="none" stroke="#9a9a9a" stroke-width="0.5"/>
<path d="M795 306L795 313" fill="none" stroke="#9a9a9a" stroke-width="0.5"/>
<path d="M811 296L811 322" fill="none" stroke="#9a9a9a" stroke-width="0.5"/>
<path d="M840 305L840 313" fill="none" stroke="#9a9a9a" stroke-width="0.5"/>
<path d="M895 311L895 322" fill="none" stroke="#9a9a9a" stroke-width="0.5"/>
<path d="M1017 359L1017 371" fill="none" stroke="#9a9a9a" stroke-width="0.5"/>
<path d="M56 270L56 281" fill="none" stroke="#9a9a9a" stroke-width="0.5"/>
<path d="M180 571L180 582" fill="none" stroke="#9a9a9a" stroke-width="0.5"/>
<path d="M321 566L321 591" fill="none" stroke="#9a9a9a" stroke-width="0.5"/>
<path d="M359 560L359 569" fill="none" stroke="#9a9a9a" stroke-width="0.5"/>
<path d="M380 566L380 590" fill="none" stroke="#9a9a9a" stroke-width="0.5"/>
<path d="M404 578L404 586" fill="none" stroke="#9a9a9a" stroke-width="0.5"/>
<path d="M428 583L428 597" fill="none" stroke="#9a9a9a" stroke-width="0.5"/>
<path d="M416 505L416 513" fill="none" stroke="#9a9a9a" stroke-width="0.5"/>
<path d="M210.0 285.0 L210.0 281.2 L225.0 281.2 L225.0 277.5 L231.2 277.5 L231.2 290.0 L227.5 290.0 L227.5 302.5" fill="none" stroke="#b4dcf8" stroke-width="0.8" stroke-opacity="0.85"/>
<g opacity="0.999">
<text x="200" y="41" font-size="7.65" fill="#111" text-anchor="middle" font-weight="normal" stroke="#111" stroke-width="0.2295">Murmansk O</text>
<text x="153" y="65" font-size="7.65" fill="#111" text-anchor="middle" font-weight="normal" stroke="#111" stroke-width="0.2295">Karelia</text>
<text x="279" y="64" font-size="7.65" fill="#111" text-anchor="middle" font-weight="normal" stroke="#111" stroke-width="0.2295">Nenets AO</text>
<text x="101" y="84" font-size="9.5" fill="#111" text-anchor="middle" font-weight="normal" stroke="#111" stroke-width="0.285">St. Petersburg</text>
<text x="237" y="88" font-size="7.65" fill="#111" text-anchor="middle" font-weight="normal" stroke="#111" stroke-width="0.2295">Arkhangelsk O</text>
<text x="172" y="110" font-size="7.65" fill="#111" text-anchor="middle" font-weight="normal" stroke="#111" stroke-width="0.2295">Leningrad O</text>
<text x="231" y="116" font-size="7.65" fill="#111" text-anchor="middle" font-weight="normal" stroke="#111" stroke-width="0.2295">Vologda O</text>
<text x="265" y="127" font-size="7.65" fill="#111" text-anchor="middle" font-weight="normal" stroke="#111" stroke-width="0.2295">Yaroslavl O</text>
<text x="173" y="137" font-size="7.65" fill="#111" text-anchor="middle" font-weight="normal" stroke="#111" stroke-width="0.2295">Novgorod O</text>
<text x="114" y="159" font-size="7.65" fill="#111" text-anchor="middle" font-weight="normal" stroke="#111" stroke-width="0.2295">Pskov O</text>
<text x="189" y="157" font-size="7.65" fill="#111" text-anchor="middle" font-weight="normal" stroke="#111" stroke-width="0.2295">Tver O</text>
<text x="161" y="208" font-size="9.7" fill="#111" text-anchor="middle" font-weight="normal" stroke="#111" stroke-width="0.291">Moscow O</text>
<text x="338" y="205" font-size="7.65" fill="#111" text-anchor="middle" font-weight="normal" stroke="#111" stroke-width="0.2295">Vladimir O</text>
<text x="385" y="192" font-size="7.65" fill="#111" text-anchor="middle" font-weight="normal" stroke="#111" stroke-width="0.2295">Ivanovo</text>
<text x="385" y="201" font-size="7.65" fill="#111" text-anchor="middle" font-weight="normal" stroke="#111" stroke-width="0.2295">O</text>
<text x="416" y="198" font-size="7.65" fill="#111" text-anchor="middle" font-weight="normal" stroke="#111" stroke-width="0.2295">Kostroma</text>
<text x="416" y="207" font-size="7.65" fill="#111" text-anchor="middle" font-weight="normal" stroke="#111" stroke-width="0.2295">O</text>
<text x="454" y="170" font-size="7.65" fill="#111" text-anchor="middle" font-weight="normal" stroke="#111" stroke-width="0.2295">Komi</text>
<text x="448" y="209" font-size="7.65" fill="#111" text-anchor="middle" font-weight="normal" stroke="#111" stroke-width="0.2295">Kirov O</text>
<text x="437" y="232" font-size="7.65" fill="#111" text-anchor="middle" font-weight="normal" stroke="#111" stroke-width="0.2295">Mari El</text>
<text x="510" y="224" font-size="7.65" fill="#111" text-anchor="middle" font-weight="normal" stroke="#111" stroke-width="0.2295">Udmurtia</text>
<text x="548" y="206" font-size="7.65" fill="#111" text-anchor="middle" font-weight="normal" stroke="#111" stroke-width="0.2295">Perm K</text>
<text x="604" y="214" font-size="7.65" fill="#111" text-anchor="middle" font-weight="normal" stroke="#111" stroke-width="0.2295">Sverdlovsk O</text>
<text x="648" y="194" font-size="7.65" fill="#111" text-anchor="middle" font-weight="normal" stroke="#111" stroke-width="0.2295">Khanty-</text>
<text x="648" y="203" font-size="7.65" fill="#111" text-anchor="middle" font-weight="normal" stroke="#111" stroke-width="0.2295">Mansi AO</text>
<text x="706" y="166" font-size="7.65" fill="#111" text-anchor="middle" font-weight="normal" stroke="#111" stroke-width="0.2295">Yamalo-Nenets AO</text>
<text x="706" y="213" font-size="7.65" fill="#111" text-anchor="middle" font-weight="normal" stroke="#111" stroke-width="0.2295">Tomsk O</text>
<text x="647" y="231" font-size="7.65" fill="#111" text-anchor="middle" font-weight="normal" stroke="#111" stroke-width="0.2295">Tyumen O</text>
<text x="636" y="259" font-size="7.65" fill="#111" text-anchor="middle" font-weight="normal" stroke="#111" stroke-width="0.2295">Kurgan O</text>
<text x="680" y="251" font-size="7.65" fill="#111" text-anchor="middle" font-weight="normal" stroke="#111" stroke-width="0.2295">Omsk O</text>
<text x="735" y="261" font-size="7.65" fill="#111" text-anchor="middle" font-weight="normal" stroke="#111" stroke-width="0.2295">Novosibirsk O</text>
<text x="786" y="231" font-size="7.65" fill="#111" text-anchor="middle" font-weight="normal" stroke="#111" stroke-width="0.2295">Kemerovo</text>
<text x="786" y="240" font-size="7.65" fill="#111" text-anchor="middle" font-weight="normal" stroke="#111" stroke-width="0.2295">O</text>
<text x="830" y="231" font-size="7.65" fill="#111" text-anchor="middle" font-weight="normal" stroke="#111" stroke-width="0.2295">Krasnoyarsky</text>
<text x="830" y="240" font-size="7.65" fill="#111" text-anchor="middle" font-weight="normal" stroke="#111" stroke-width="0.2295">K</text>
<text x="866" y="215" font-size="7.65" fill="#111" text-anchor="middle" font-weight="normal" stroke="#111" stroke-width="0.2295">Yakutia</text>
<text x="878" y="266" font-size="7.65" fill="#111" text-anchor="middle" font-weight="normal" stroke="#111" stroke-width="0.2295">Irkutsk O</text>
<text x="948" y="293" font-size="7.65" fill="#111" text-anchor="middle" font-weight="normal" stroke="#111" stroke-width="0.2295">Amur O</text>
<text x="989" y="226" font-size="7.65" fill="#111" text-anchor="middle" font-weight="normal" stroke="#111" stroke-width="0.2295">Khabarovsky K</text>
<text x="895" y="168" font-size="7.65" fill="#111" text-anchor="middle" font-weight="normal" stroke="#111" stroke-width="0.2295">Magadan O</text>
<text x="924" y="178" font-size="7.65" fill="#111" text-anchor="middle" font-weight="normal" stroke="#111" stroke-width="0.2295">Chukotka AO</text>
<text x="952" y="195" font-size="7.65" fill="#111" text-anchor="middle" font-weight="normal" stroke="#111" stroke-width="0.2295">Kamchatsky K</text>
<text x="930" y="321" font-size="7.65" fill="#111" text-anchor="middle" font-weight="normal" stroke="#111" stroke-width="0.2295">Jewish AO</text>
<text x="889" y="331" font-size="7.65" fill="#111" text-anchor="middle" font-weight="normal" stroke="#111" stroke-width="0.2295">Zabaykalsky</text>
<text x="889" y="340" font-size="7.65" fill="#111" text-anchor="middle" font-weight="normal" stroke="#111" stroke-width="0.2295">K</text>
<text x="840" y="322" font-size="7.65" fill="#111" text-anchor="middle" font-weight="normal" stroke="#111" stroke-width="0.2295">Tuva</text>
<text x="795" y="322" font-size="7.65" fill="#111" text-anchor="middle" font-weight="normal" stroke="#111" stroke-width="0.2295">Altai</text>
<text x="809" y="331" font-size="7.65" fill="#111" text-anchor="middle" font-weight="normal" stroke="#111" stroke-width="0.2295">Khakasia</text>
<text x="749" y="300" font-size="7.65" fill="#111" text-anchor="middle" font-weight="normal" stroke="#111" stroke-width="0.2295">Altai K</text>
<text x="956.5" y="354" font-size="7.65" fill="#111" text-anchor="middle" font-weight="normal" stroke="#111" stroke-width="0.2295">Primorsky</text>
<text x="956.5" y="363" font-size="7.65" fill="#111" text-anchor="middle" font-weight="normal" stroke="#111" stroke-width="0.2295">K</text>
<text x="1004" y="378" font-size="7.65" fill="#111" text-anchor="middle" font-weight="normal" stroke="#111" stroke-width="0.2295">Sakhalin O</text>
<text x="133" y="254" font-size="7.65" fill="#111" text-anchor="middle" font-weight="normal" stroke="#111" stroke-width="0.2295">Smolensk O</text>
<text x="180" y="263" font-size="7.65" fill="#111" text-anchor="middle" font-weight="normal" stroke="#111" stroke-width="0.2295">Kaluga O</text>
<text x="150" y="291" font-size="7.65" fill="#111" text-anchor="middle" font-weight="normal" stroke="#111" stroke-width="0.2295">Bryansk O</text>
<text x="55.5" y="287" font-size="7.65" fill="#111" text-anchor="middle" font-weight="normal" stroke="#111" stroke-width="0.2295">Kaliningrad O</text>
<text x="214" y="292" font-size="7.65" fill="#111" text-anchor="middle" font-weight="normal" stroke="#111" stroke-width="0.2295">New</text>
<text x="214" y="301" font-size="7.65" fill="#111" text-anchor="middle" font-weight="normal" stroke="#111" stroke-width="0.2295">Moscow</text>
<text x="288" y="308" font-size="7.65" fill="#111" text-anchor="middle" font-weight="normal" stroke="#111" stroke-width="0.2295">Tula O</text>
<text x="265" y="330" font-size="7.65" fill="#111" text-anchor="middle" font-weight="normal" stroke="#111" stroke-width="0.2295">Oryol O</text>
<text x="303" y="339" font-size="7.65" fill="#111" text-anchor="middle" font-weight="normal" stroke="#111" stroke-width="0.2295">Lipetsk O</text>
<text x="257" y="356" font-size="9.6" fill="#111" text-anchor="middle" font-weight="normal" stroke="#111" stroke-width="0.288">Kursk O</text>
<text x="321" y="365" font-size="7.65" fill="#111" text-anchor="middle" font-weight="normal" stroke="#111" stroke-width="0.2295">Voronezh O</text>
<text x="264" y="383" font-size="7.65" fill="#111" text-anchor="middle" font-weight="normal" stroke="#111" stroke-width="0.2295">Belgorod O</text>
<text x="346" y="301" font-size="7.65" fill="#111" text-anchor="middle" font-weight="normal" stroke="#111" stroke-width="0.2295">Ryazan O</text>
<text x="386" y="301" font-size="7.65" fill="#111" text-anchor="middle" font-weight="normal" stroke="#111" stroke-width="0.2295">Mordovia</text>
<text x="344" y="331" font-size="7.65" fill="#111" text-anchor="middle" font-weight="normal" stroke="#111" stroke-width="0.2295">Tambov</text>
<text x="344" y="340" font-size="7.65" fill="#111" text-anchor="middle" font-weight="normal" stroke="#111" stroke-width="0.2295">O</text>
<text x="389" y="325" font-size="7.65" fill="#111" text-anchor="middle" font-weight="normal" stroke="#111" stroke-width="0.2295">Penza O</text>
<text x="430" y="308" font-size="7.65" fill="#111" text-anchor="middle" font-weight="normal" stroke="#111" stroke-width="0.2295">Ulyanovsk O</text>
<text x="462" y="332" font-size="7.65" fill="#111" text-anchor="middle" font-weight="normal" stroke="#111" stroke-width="0.2295">Samara O</text>
<text x="390" y="359" font-size="7.65" fill="#111" text-anchor="middle" font-weight="normal" stroke="#111" stroke-width="0.2295">Saratov O</text>
<text x="371" y="395" font-size="7.65" fill="#111" text-anchor="middle" font-weight="normal" stroke="#111" stroke-width="0.2295">Volgograd O</text>
<text x="520" y="340" font-size="7.65" fill="#111" text-anchor="middle" font-weight="normal" stroke="#111" stroke-width="0.2295">Orenburg O</text>
<text x="542" y="294" font-size="7.65" fill="#111" text-anchor="middle" font-weight="normal" stroke="#111" stroke-width="0.2295">Bashkortostan</text>
<text x="600" y="299" font-size="7.65" fill="#111" text-anchor="middle" font-weight="normal" stroke="#111" stroke-width="0.2295">Chelyabinsk O</text>
<text x="473" y="270" font-size="7.65" fill="#111" text-anchor="middle" font-weight="normal" stroke="#111" stroke-width="0.2295">Tatarstan</text>
<text x="418" y="256" font-size="7.65" fill="#111" text-anchor="middle" font-weight="normal" stroke="#111" stroke-width="0.2295">Chuvashia</text>
<text x="383" y="252" font-size="7.65" fill="#111" text-anchor="middle" font-weight="normal" stroke="#111" stroke-width="0.2295">Nizhny</text>
<text x="383" y="261" font-size="7.65" fill="#111" text-anchor="middle" font-weight="normal" stroke="#111" stroke-width="0.2295">Novgorod</text>
<text x="383" y="269.5" font-size="7.65" fill="#111" text-anchor="middle" font-weight="normal" stroke="#111" stroke-width="0.2295">O</text>
<text x="334" y="263" font-size="9.7" fill="#111" text-anchor="middle" font-weight="normal" stroke="#111" stroke-width="0.291">Moscow O</text>
<text x="336" y="464" font-size="7.65" fill="#111" text-anchor="middle" font-weight="normal" stroke="#111" stroke-width="0.2295">Rostov O</text>
<text x="413" y="481" font-size="7.65" fill="#111" text-anchor="middle" font-weight="normal" stroke="#111" stroke-width="0.2295">Astrakhan O</text>
<text x="304" y="502" font-size="7.65" fill="#111" text-anchor="middle" font-weight="normal" stroke="#111" stroke-width="0.2295">Krasnodarsky</text>
<text x="304" y="511" font-size="7.65" fill="#111" text-anchor="middle" font-weight="normal" stroke="#111" stroke-width="0.2295">K</text>
<text x="369" y="502" font-size="7.65" fill="#111" text-anchor="middle" font-weight="normal" stroke="#111" stroke-width="0.2295">Stavropolsky</text>
<text x="369" y="511" font-size="7.65" fill="#111" text-anchor="middle" font-weight="normal" stroke="#111" stroke-width="0.2295">K</text>
<text x="426" y="520" font-size="7.65" fill="#111" text-anchor="middle" font-weight="normal" stroke="#111" stroke-width="0.2295">Kalmykia</text>
<text x="449" y="545" font-size="7.65" fill="#111" text-anchor="middle" font-weight="normal" stroke="#111" stroke-width="0.2295">Chechnya</text>
<text x="480" y="583" font-size="7.65" fill="#111" text-anchor="middle" font-weight="normal" stroke="#111" stroke-width="0.2295">Dagestan</text>
<text x="182" y="522" font-size="7.65" fill="#111" text-anchor="middle" font-weight="normal" stroke="#111" stroke-width="0.2295">Crimea*</text>
<text x="178" y="590" font-size="7.65" fill="#111" text-anchor="middle" font-weight="normal" stroke="#111" stroke-width="0.2295">Sevastopol*</text>
<text x="319" y="599" font-size="7.65" fill="#111" text-anchor="middle" font-weight="normal" stroke="#111" stroke-width="0.2295">Adygea</text>
<text x="354" y="577" font-size="7.65" fill="#111" text-anchor="middle" font-weight="normal" stroke="#111" stroke-width="0.2295">Karachaevo-</text>
<text x="354" y="586.3" font-size="7.65" fill="#111" text-anchor="middle" font-weight="normal" stroke="#111" stroke-width="0.2295">Cherkessia</text>
<text x="365" y="597" font-size="7.65" fill="#111" text-anchor="middle" font-weight="normal" stroke="#111" stroke-width="0.2295">Kabardino-</text>
<text x="365" y="606.3" font-size="7.65" fill="#111" text-anchor="middle" font-weight="normal" stroke="#111" stroke-width="0.2295">Balkaria</text>
<text x="404" y="594" font-size="7.65" fill="#111" text-anchor="middle" font-weight="normal" stroke="#111" stroke-width="0.2295">North</text>
<text x="404" y="603.3" font-size="7.65" fill="#111" text-anchor="middle" font-weight="normal" stroke="#111" stroke-width="0.2295">Ossetia -</text>
<text x="404" y="612" font-size="7.65" fill="#111" text-anchor="middle" font-weight="normal" stroke="#111" stroke-width="0.2295">Alania</text>
<text x="443" y="604" font-size="7.65" fill="#111" text-anchor="middle" font-weight="normal" stroke="#111" stroke-width="0.2295">Ingushetia</text>
<text x="896" y="279" font-size="8.2" fill="#fff" text-anchor="middle" font-weight="normal" stroke="#fff" stroke-width="0.246">Buryatia</text>
<text x="252.3" y="226" font-size="18.9" fill="#10305e" text-anchor="middle" font-weight="normal" stroke="none">Moscow</text>
<text x="330" y="29.3" font-size="22" fill="#000" text-anchor="start" font-weight="bold" textLength="208" lengthAdjust="spacingAndGlyphs" stroke="#000" stroke-width="1.3" stroke-linejoin="round">1 YEAR OF WAR</text>
<rect x="330" y="33.2" width="209" height="1.9" fill="#000"/>
<text x="330" y="61" font-size="22.8" fill="#000" text-anchor="start" font-weight="normal" stroke="none" textLength="520" lengthAdjust="spacingAndGlyphs">Per capita casualties in Russian regions (identified)</text>
<text x="330" y="81.7" font-size="13.3" fill="#000" text-anchor="start" font-weight="normal" stroke="none" textLength="482" lengthAdjust="spacingAndGlyphs">Region size is its population. Region colour is deaths per 100 000 population in it.</text>
<text x="330" y="97.2" font-size="13.3" fill="#000" text-anchor="start" font-weight="normal" stroke="none" textLength="693" lengthAdjust="spacingAndGlyphs">Includes identified (not total**) deaths of 15 004 Russian citizens*** counted by BBC &amp; Mediazona as of 24 Feb 2023.</text>
<text x="520" y="414" font-size="15.3" fill="#111" text-anchor="start" font-weight="normal" stroke="none">Legend</text>
<text x="622" y="433.6" font-size="9.45" fill="#111" text-anchor="start" font-weight="normal" stroke="#111" stroke-width="0.2835">1 square - about 15000 people</text>
<text x="622" y="451.8" font-size="9.45" fill="#111" text-anchor="start" font-weight="normal" stroke="#111" stroke-width="0.2835">Region name</text>
<text x="622" y="463.3" font-size="9.45" fill="#111" text-anchor="start" font-weight="normal" stroke="#111" stroke-width="0.2835">(O = Oblast, K = Krai)</text>
<text x="559" y="456.3" font-size="7.4" fill="#6a1a10" text-anchor="middle" font-weight="normal" stroke="#6a1a10" stroke-width="0.222">Belgorod O</text>
<text x="518.5" y="522" font-size="15.3" fill="#111" text-anchor="start" font-weight="normal" stroke="none">Identified deaths per 100 000 people</text>
<text x="559" y="566" font-size="9.2" fill="#111" text-anchor="middle" font-weight="normal" stroke="#111" stroke-width="0.276">0.7</text>
<text x="587.5" y="566" font-size="9.2" fill="#111" text-anchor="middle" font-weight="normal" stroke="#111" stroke-width="0.276">3</text>
<text x="620" y="566" font-size="9.2" fill="#111" text-anchor="middle" font-weight="normal" stroke="#111" stroke-width="0.276">10</text>
<text x="651" y="566" font-size="9.2" fill="#111" text-anchor="middle" font-weight="normal" stroke="#111" stroke-width="0.276">20</text>
<text x="680" y="566" font-size="9.2" fill="#111" text-anchor="middle" font-weight="normal" stroke="#111" stroke-width="0.276">53</text>
<text x="558" y="574" font-size="5" fill="#222" text-anchor="middle" font-weight="normal" stroke="#222" stroke-width="0.15">Moscow</text>
<text x="558" y="581" font-size="5" fill="#222" text-anchor="middle" font-weight="normal" stroke="#222" stroke-width="0.15">(0.76)</text>
<text x="680" y="574" font-size="5" fill="#222" text-anchor="middle" font-weight="normal" stroke="#222" stroke-width="0.15">Tuva</text>
<text x="680" y="581" font-size="5" fill="#222" text-anchor="middle" font-weight="normal" stroke="#222" stroke-width="0.15">(52.9)</text>
<text x="809" y="415" font-size="15.35" fill="#111" text-anchor="start" font-weight="normal" stroke="none">Federal districts (pop in m)</text>
<text x="1044.5" y="555" font-size="7.62" fill="#111" text-anchor="end" font-weight="normal" stroke="#111" stroke-width="0.2286">* Crimea and Sevastopol are occupied by Russia, but are de jure Ukraine.</text>
<text x="1044.5" y="573.5" font-size="7.62" fill="#111" text-anchor="end" font-weight="normal" stroke="#111" stroke-width="0.2286">** Information about their death could be found in a public source (e.g., local news or obituary).</text>
<text x="1044.5" y="592" font-size="7.62" fill="#111" text-anchor="end" font-weight="normal" stroke="#111" stroke-width="0.2286">*** Soldiers from unknown locations or from outside Russia (e.g., Tajikistan) are not included.</text>
<text x="1044.5" y="610.5" font-size="7.62" fill="#111" text-anchor="end" font-weight="normal" stroke="#111" stroke-width="0.2286">Source of identified deaths, BBC News Russia &amp; Mediazona: zona.media/casualties</text>
<text x="1044.5" y="629" font-size="7.62" fill="#111" text-anchor="end" font-weight="normal" stroke="#111" stroke-width="0.2286">Original projection made by: mikhed.ru/население-россии</text>
<text x="891.5" y="432" font-size="5.5" fill="#222" text-anchor="start" font-weight="bold" stroke="none">Northwestern</text>
<text x="891.5" y="438.6" font-size="5.5" fill="#222" text-anchor="start" font-weight="bold" stroke="none">13.9</text>
<text x="827" y="440" font-size="5.5" fill="#222" text-anchor="start" font-weight="bold" stroke="none">Central</text>
<text x="827" y="447" font-size="5.5" fill="#222" text-anchor="start" font-weight="bold" stroke="none">39.1</text>
<text x="817" y="458" font-size="5.5" fill="#222" text-anchor="start" font-weight="bold" stroke="none">Crimea*</text>
<text x="817" y="464.3" font-size="5.5" fill="#222" text-anchor="start" font-weight="bold" stroke="none">2.3</text>
<text x="815" y="474.4" font-size="5.5" fill="#222" text-anchor="start" font-weight="bold" stroke="none">Southern</text>
<text x="815" y="481.3" font-size="5.5" fill="#222" text-anchor="start" font-weight="bold" stroke="none">14.0</text>
<text x="806" y="491" font-size="5.5" fill="#222" text-anchor="start" font-weight="bold" stroke="none">North Caucasus</text>
<text x="806" y="497.4" font-size="5.5" fill="#222" text-anchor="start" font-weight="bold" stroke="none">9.7</text>
<text x="868.4" y="486" font-size="5.5" fill="#222" text-anchor="start" font-weight="bold" stroke="none">Volga</text>
<text x="868.4" y="492.4" font-size="5.5" fill="#222" text-anchor="start" font-weight="bold" stroke="none">29.7</text>
<text x="895.3" y="486" font-size="5.5" fill="#222" text-anchor="start" font-weight="bold" stroke="none">Urals</text>
<text x="895.3" y="492.4" font-size="5.5" fill="#222" text-anchor="start" font-weight="bold" stroke="none">12.3</text>
<text x="921" y="486" font-size="5.5" fill="#222" text-anchor="start" font-weight="bold" stroke="none">Siberian</text>
<text x="921" y="492.4" font-size="5.5" fill="#222" text-anchor="start" font-weight="bold" stroke="none">19.3</text>
<text x="941.2" y="460.7" font-size="5.5" fill="#222" text-anchor="start" font-weight="bold" stroke="none">Far Eastern</text>
<text x="941.2" y="467.6" font-size="5.5" fill="#222" text-anchor="start" font-weight="bold" stroke="none">8.2</text>
</g>
</svg>
</body></html>
